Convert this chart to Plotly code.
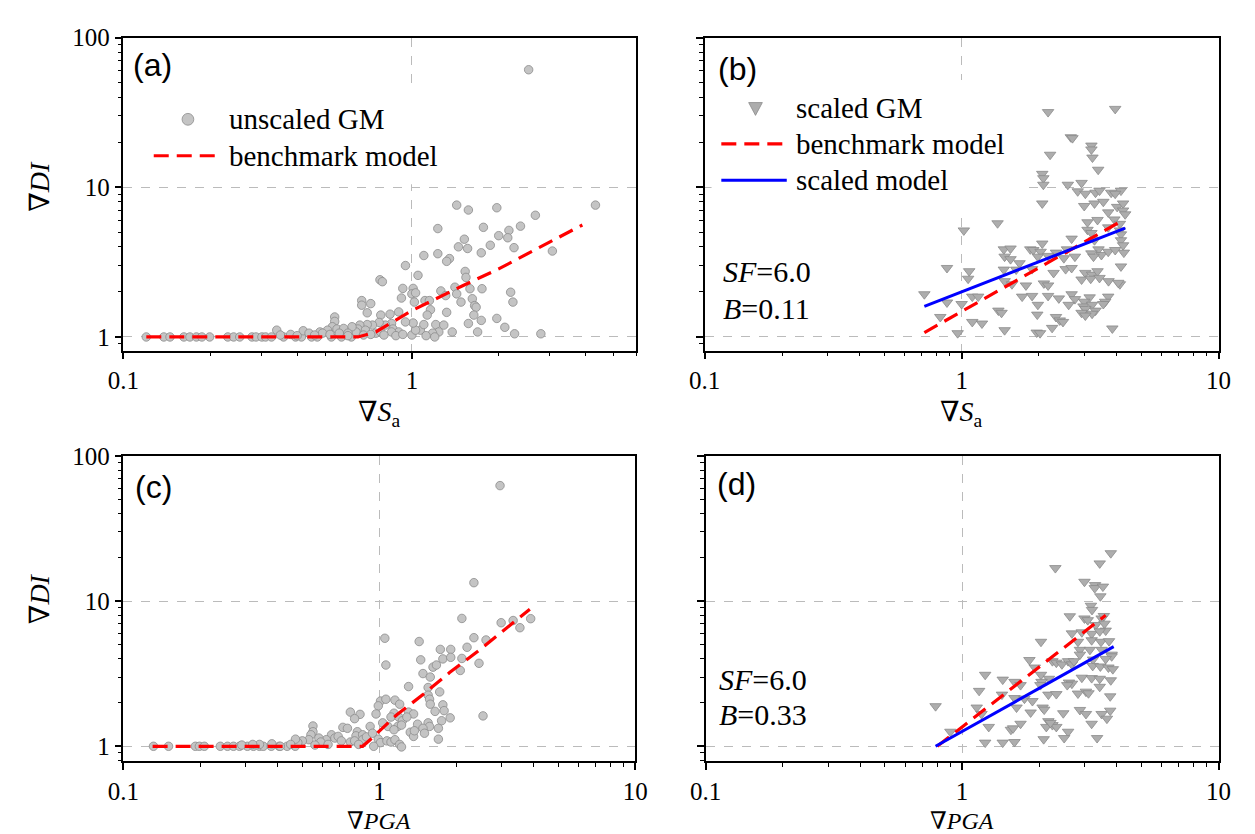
import math
import plotly.graph_objects as go

# ---------------- data ----------------
# (a) unscaled GM, Sa
a_x = [0.120, 0.138, 0.145, 0.162, 0.170, 0.179, 0.187, 0.199, 0.230, 0.241,
       0.253, 0.279, 0.288, 0.302, 0.311, 0.326, 0.359, 0.395, 0.414, 0.449,
       0.470, 0.526, 0.570, 0.617,
       2.54, 1.43, 1.57, 1.97, 4.33, 2.68, 1.23, 1.77, 2.17, 2.38,
       2.00, 2.15, 1.52, 1.45, 1.56, 1.87, 2.26, 3.07, 1.10, 1.23,
       1.35, 1.32, 1.74, 0.95, 1.05, 1.53, 1.54, 0.775, 0.79, 0.93,
       1.01, 1.26, 1.41, 1.59, 1.75, 2.20, 2.24, 1.00, 1.03, 1.11,
       1.15, 1.31, 1.43, 1.62, 1.48, 1.65, 1.67, 1.02, 0.92, 0.67,
       0.67, 0.72, 0.70, 0.78, 0.84, 0.90, 1.32, 1.16, 1.13, 1.64,
       1.74, 1.57, 1.97, 2.10, 2.27, 2.80, 1.69, 1.21, 1.29, 1.38,
       1.24, 1.18, 1.07, 1.10, 1.00, 1.03, 1.01, 0.95, 0.85, 0.86,
       0.90, 0.81, 0.77, 0.73, 0.70, 0.66, 0.65, 0.64, 0.69, 0.75,
       0.78, 0.85, 0.54, 0.54, 0.53, 0.55, 0.51, 0.48, 0.62, 0.58,
       0.60, 0.56, 0.42, 0.44, 0.49, 0.34, 0.35,
       0.38, 0.40, 0.46, 0.52, 0.60, 0.68, 0.72, 0.80, 0.88, 0.93, 1.12, 1.20]
a_y = [1.0, 1.0, 1.0, 1.0, 1.0, 1.0, 1.0, 1.0, 1.0, 1.0,
       1.0, 1.0, 1.0, 1.0, 1.0, 1.0, 1.0, 1.0, 1.0, 1.0,
       1.0, 1.0, 1.0, 1.0,
       61.0, 7.6, 7.05, 7.3, 7.6, 6.5, 5.3, 5.4, 5.15, 5.5,
       4.75, 4.6, 4.5, 4.0, 3.9, 4.1, 3.95, 3.75, 3.5, 3.6,
       3.34, 3.2, 3.65, 3.0, 2.58, 2.74, 2.5, 2.41, 2.34, 2.11,
       2.11, 2.03, 2.15, 2.1, 2.1, 1.99, 1.71, 1.94, 1.97, 1.75,
       1.75, 1.89, 1.94, 1.80, 1.71, 1.62, 1.58, 1.71, 1.82, 1.75,
       1.63, 1.67, 1.45, 1.40, 1.42, 1.47, 1.46, 1.52, 1.40, 1.40,
       1.29, 1.23, 1.33, 1.16, 1.05, 1.05, 1.08, 1.21, 1.20, 1.08,
       1.08, 1.06, 1.11, 1.21, 1.03, 1.11, 1.24, 1.26, 1.23, 1.13,
       1.08, 1.20, 1.25, 1.20, 1.21, 1.20, 1.13, 1.08, 1.11, 1.06,
       1.08, 1.08, 1.36, 1.27, 1.17, 1.13, 1.11, 1.08, 1.17, 1.14,
       1.06, 1.06, 1.10, 1.06, 1.06, 1.11, 1.03,
       1.04, 1.02, 1.03, 1.04, 1.02, 1.03, 1.04, 1.03, 1.02, 1.04, 1.02, 1.0]
a_bench_x = [0.12, 0.65, 0.75, 0.85, 1.0, 1.5, 2.0, 3.0, 3.9]
a_bench_y = [1.0, 1.0, 1.08, 1.25, 1.5, 2.2, 2.85, 4.3, 5.6]

# (b) scaled GM, Sa
b_x = [3.96, 2.17, 2.66, 2.70, 3.20, 3.20, 3.23, 2.21, 3.40, 2.06,
       2.08, 2.08, 2.59, 2.93, 2.83, 3.03, 3.32, 3.44, 3.82, 4.17,
       3.96, 2.06, 3.00, 3.29, 3.56, 4.03, 4.25, 4.25, 4.33, 3.72,
       3.93, 4.13, 1.38, 1.02, 3.09, 3.38, 3.09, 3.20, 3.72, 4.13,
       4.17, 2.68, 3.29, 4.17, 4.25, 1.46, 1.55, 1.85, 1.90, 2.06,
       2.03, 2.33, 2.57, 2.76, 3.41, 3.50, 3.72, 4.28, 3.96, 1.47,
       1.55, 1.68, 1.98, 2.17, 2.50, 3.20, 3.26, 0.877, 1.07, 1.06,
       1.46, 1.63, 1.88, 2.28, 2.54, 2.68, 3.03, 3.22, 3.38, 3.73,
       4.17, 1.47, 1.57, 1.78, 2.09, 2.17, 2.93, 3.18, 3.44, 4.13,
       4.07, 0.716, 1.10, 1.16, 1.72, 1.88, 2.17, 2.39, 2.68, 2.76,
       3.15, 3.00, 3.72, 3.62, 0.877, 1.00, 1.98, 2.61, 2.98, 3.22,
       3.32, 3.03, 2.93, 3.22, 3.56, 0.826, 1.39, 1.43, 1.97, 2.33,
       2.41, 3.03, 1.10, 1.20, 1.47, 2.25, 2.48, 0.965, 1.96, 2.02,
       3.86]
b_y = [33.4, 31.8, 21.6, 21.3, 19.0, 17.9, 15.8, 16.5, 13.1, 12.3,
       11.5, 10.4, 10.4, 10.7, 9.4, 9.06, 9.2, 9.5, 9.2, 9.5,
       9.06, 7.8, 7.5, 7.8, 8.0, 7.4, 7.8, 7.0, 6.6, 6.8,
       6.1, 5.7, 5.75, 5.15, 5.84, 6.05, 5.2, 4.95, 5.4, 5.15,
       4.85, 4.54, 4.43, 4.43, 4.1, 3.85, 3.9, 3.85, 3.81, 4.21,
       3.71, 3.66, 3.85, 3.44, 3.85, 3.53, 3.71, 3.66, 3.81, 3.44,
       3.31, 3.11, 3.44, 3.48, 3.36, 3.62, 3.44, 2.89, 2.75, 2.45,
       2.82, 2.82, 2.84, 2.68, 2.84, 2.89, 2.68, 2.61, 2.75, 2.36,
       2.96, 2.36, 2.25, 2.21, 2.28, 2.21, 2.42, 2.45, 2.48, 2.25,
       2.30, 1.93, 1.86, 1.86, 1.86, 1.88, 1.88, 1.81, 1.93, 1.79,
       1.84, 1.72, 1.86, 1.72, 1.70, 1.66, 1.64, 1.64, 1.60, 1.64,
       1.50, 1.54, 1.45, 1.43, 1.66, 1.36, 1.50, 1.45, 1.41, 1.36,
       1.29, 1.39, 1.26, 1.23, 1.11, 1.15, 1.26, 1.06, 1.07, 1.06,
       1.14]
b_bench_x = [0.716, 4.22]
b_bench_y = [1.07, 5.99]
b_scaled_x = [0.716, 4.33]
b_scaled_y = [1.60, 5.33]

# (c) unscaled GM, PGA
c_x = [0.131, 0.150, 0.191, 0.198, 0.207, 0.239, 0.255, 0.269, 0.284, 0.305,
       0.322, 0.340, 0.352, 0.378, 0.406, 0.436, 0.469,
       2.96, 2.34, 2.10, 2.99, 3.33, 3.54, 3.90, 1.05, 1.43, 2.34,
       2.61, 2.20, 1.73, 1.90, 1.45, 1.77, 1.90, 2.10, 1.06, 1.62,
       1.67, 2.45, 1.48, 1.58, 2.07, 1.30, 1.55, 1.72, 1.55, 1.01,
       1.06, 1.15, 1.57, 1.20, 1.58, 1.77, 0.99, 1.79, 1.65, 1.89,
       1.75, 2.54, 0.77, 0.84, 0.80, 0.97, 1.14, 1.11, 1.19, 1.30,
       1.23, 1.36, 1.28, 1.18, 1.08, 1.03, 0.92, 1.14, 1.22, 1.41,
       1.55, 1.57, 1.48, 1.32, 1.36, 1.37, 1.50, 1.70, 1.70, 0.55,
       0.55, 0.54, 0.72, 0.75, 0.82, 0.81, 0.86, 0.86, 0.89, 0.94,
       0.99, 1.01, 1.07, 1.11, 1.15, 1.20, 1.22, 0.95, 0.65, 0.67,
       0.69, 0.71, 0.62, 0.58, 0.59, 0.53, 0.50, 0.48, 0.47, 0.77,
       0.80, 0.83, 0.63, 0.56, 0.45, 0.41, 0.38, 0.34, 0.32, 0.29]
c_y = [1.0, 1.0, 1.0, 1.0, 1.0, 1.0, 1.0, 1.0, 1.0, 1.0,
       1.0, 1.0, 1.0, 1.0, 1.0, 1.0, 1.0,
       62.5, 13.4, 7.6, 7.1, 7.35, 6.56, 7.57, 5.55, 5.27, 5.6,
       5.4, 4.81, 4.65, 4.65, 3.94, 4.0, 4.1, 4.03, 3.63, 3.51,
       3.63, 3.73, 3.17, 3.0, 3.33, 2.58, 2.54, 2.37, 2.25, 2.05,
       2.11, 2.08, 2.11, 1.95, 1.95, 1.93, 1.9, 1.76, 1.74, 1.57,
       1.50, 1.62, 1.72, 1.66, 1.55, 1.67, 1.69, 1.59, 1.59, 1.72,
       1.50, 1.67, 1.59, 1.37, 1.37, 1.45, 1.37, 1.30, 1.40, 1.42,
       1.45, 1.37, 1.33, 1.25, 1.17, 1.28, 1.23, 1.12, 1.33, 1.38,
       1.26, 1.20, 1.35, 1.33, 1.26, 1.18, 1.20, 1.11, 1.16, 1.23,
       1.12, 1.06, 1.09, 1.07, 1.11, 1.03, 0.99, 1.0, 1.2, 1.14,
       1.17, 1.09, 1.11, 1.14, 1.07, 1.11, 1.09, 1.06, 1.12, 1.07,
       1.09, 1.03, 1.03, 1.02, 1.03, 1.0, 1.04, 1.03, 1.03, 1.02]
c_bench_x = [0.13, 0.86, 0.92, 1.17, 1.48, 1.88, 2.41, 3.10, 3.87]
c_bench_y = [1.0, 1.0, 1.11, 1.65, 2.27, 3.22, 4.48, 6.36, 8.8]

# (d) scaled GM, PGA
d_x = [3.80, 3.44, 2.31, 3.00, 3.30, 3.29, 3.54, 3.46, 3.18, 3.21,
       2.63, 3.00, 3.09, 3.50, 3.57, 3.32, 3.59, 2.68, 2.93, 3.20,
       3.63, 3.44, 2.03, 2.83, 3.20, 3.48, 3.74, 2.88, 3.15, 3.50,
       3.83, 1.83, 1.92, 2.25, 2.33, 2.45, 2.59, 2.68, 2.73, 2.88,
       3.24, 3.23, 3.46, 3.72, 3.87, 3.83, 3.63, 1.23, 1.44, 1.60,
       1.69, 2.03, 2.18, 2.04, 2.61, 2.68, 2.93, 3.20, 3.44, 3.80,
       2.57, 1.165, 1.43, 1.60, 1.75, 1.88, 2.02, 2.17, 2.33, 2.83,
       3.04, 3.11, 3.44, 3.78, 0.788, 1.14, 1.19, 1.63, 1.85, 2.06,
       2.09, 2.48, 2.88, 3.04, 3.20, 3.50, 3.67, 3.78, 0.90, 1.27,
       1.55, 1.58, 1.69, 2.17, 2.25, 2.33, 2.59, 2.13, 2.21, 1.23,
       1.44, 1.60, 2.08, 2.50, 3.36]
d_y = [21.4, 18.2, 16.9, 13.6, 12.9, 12.3, 12.6, 10.8, 9.3, 8.7,
       7.87, 7.6, 7.4, 7.6, 7.9, 6.85, 7.0, 6.0, 6.1, 5.96,
       6.27, 6.2, 5.25, 5.25, 5.38, 5.25, 5.3, 4.62, 4.62, 4.62,
       4.28, 3.93, 3.49, 3.86, 3.77, 3.67, 3.86, 3.67, 3.86, 4.28,
       3.96, 3.58, 3.55, 3.49, 3.40, 4.17, 4.0, 3.11, 2.88, 2.78,
       2.64, 3.11, 2.92, 2.78, 2.75, 2.70, 2.97, 2.95, 2.92, 2.85,
       2.64, 2.41, 2.27, 2.15, 2.13, 2.05, 2.64, 2.27, 2.29, 2.31,
       2.38, 2.32, 2.57, 2.21, 1.89, 1.85, 1.67, 1.85, 1.71, 1.85,
       1.79, 1.69, 1.78, 1.67, 1.43, 1.67, 1.55, 1.76, 1.26, 1.36,
       1.30, 1.33, 1.43, 1.49, 1.40, 1.36, 1.26, 1.36, 1.45, 1.06,
       1.06, 1.07, 1.12, 1.14, 1.14]
d_bench_x = [0.80, 3.63]
d_bench_y = [1.0, 8.0]
d_scaled_x = [0.788, 3.90]
d_scaled_y = [1.0, 4.86]

panel_labels = ["(a)", "(b)", "(c)", "(d)"]
legend_a = ["unscaled GM", "benchmark model"]
legend_b = ["scaled GM", "benchmark model", "scaled model"]
b_notes = ["<i>SF</i>=6.0", "<i>B</i>=0.11"]
d_notes = ["<i>SF</i>=6.0", "<i>B</i>=0.33"]
x_ticks = [0.1, 1, 10]
x_ticktext = ["0.1", "1", "10"]
y_ticks = [1, 10, 100]
y_ticktext = ["1", "10", "100"]

# ---------------- style ----------------
W, H = 1255, 834
SERIF = "Liberation Serif, DejaVu Serif, serif"
SANS = "Liberation Sans, Arial, sans-serif"
CIRC = dict(symbol="circle", size=8.5, color="#C4C4C4", line=dict(color="#8C8C8C", width=0.8))
TRI = dict(symbol="triangle-down", size=10, color="#ADADAD", line=dict(color="#8A8A8A", width=0.8))
RED = dict(color="#FF0000", width=3.2, dash="15px,8px")
BLUE = dict(color="#0000FF", width=3)

fig = go.Figure()


def sc(x, y, ax, marker):
    fig.add_trace(go.Scatter(x=x, y=y, mode="markers", marker=marker,
                             xaxis="x" + ax, yaxis="y" + ax, showlegend=False,
                             hoverinfo="skip"))


def ln(x, y, ax, line):
    fig.add_trace(go.Scatter(x=x, y=y, mode="lines", line=line,
                             xaxis="x" + ax, yaxis="y" + ax, showlegend=False,
                             hoverinfo="skip"))


sc(a_x, a_y, "", CIRC); ln(a_bench_x, a_bench_y, "", RED)
sc(b_x, b_y, "2", TRI); ln(b_bench_x, b_bench_y, "2", RED); ln(b_scaled_x, b_scaled_y, "2", BLUE)
sc(c_x, c_y, "3", CIRC); ln(c_bench_x, c_bench_y, "3", RED)
sc(d_x, d_y, "4", TRI); ln(d_bench_x, d_bench_y, "4", RED); ln(d_scaled_x, d_scaled_y, "4", BLUE)


def px_dom_x(a, b):
    return [a / W, b / W]


def px_dom_y(top, bot):
    return [1 - bot / H, 1 - top / H]


def axis(domain, rng, labels, anchor, tv, tt):
    return dict(type="log", domain=domain, range=rng, anchor=anchor,
                showline=True, linecolor="black", linewidth=1.6, mirror=True,
                ticks="outside", ticklen=7, tickwidth=1.5, tickcolor="black",
                tickmode="array", tickvals=tv, ticktext=tt,
                showticklabels=labels,
                tickfont=dict(family=SERIF, size=25, color="black"),
                showgrid=True, gridcolor="#BBBBBB", gridwidth=1, griddash="dash",
                zeroline=False,
                minor=dict(ticks="outside", ticklen=4, tickwidth=1,
                           tickcolor="black", dtick="D1", showgrid=False))


xa = px_dom_x(110, 635); xb = px_dom_x(705, 1231)
xc = px_dom_x(110, 634); xd = px_dom_x(706, 1231)
ytop = px_dom_y(25, 343); ybot = px_dom_y(450, 760)
ra_top = [math.log10(0.81), 2]
ra_bot = [math.log10(0.79), 2]

fig.update_layout(
    xaxis=axis(xa, [-1, math.log10(6)], True, "y", x_ticks, x_ticktext),
    yaxis=axis(ytop, ra_top, True, "x", y_ticks, y_ticktext),
    xaxis2=axis(xb, [-1, 1], True, "y2", x_ticks, x_ticktext),
    yaxis2=axis(ytop, ra_top, False, "x2", y_ticks, y_ticktext),
    xaxis3=axis(xc, [-1, 1], True, "y3", x_ticks, x_ticktext),
    yaxis3=axis(ybot, ra_bot, True, "x3", y_ticks, y_ticktext),
    xaxis4=axis(xd, [-1, 1], True, "y4", x_ticks, x_ticktext),
    yaxis4=axis(ybot, ra_bot, False, "x4", y_ticks, y_ticktext),
)

ann = []
shapes = []


def text(px, py, s, size=29, family=SERIF, xanchor="left", angle=0):
    ann.append(dict(x=px / W, y=1 - py / H, xref="paper", yref="paper", text=s,
                    showarrow=False, xanchor=xanchor, yanchor="middle", textangle=angle,
                    borderpad=0,
                    font=dict(family=family, size=size, color="black")))


# panel labels
for lab, (px, py) in zip(panel_labels, [(119, 53), (718, 57), (121, 482), (717, 478)]):
    text(px, py, lab, size=32, family=SANS)

# axis titles
text(372, 407, "∇<i>S</i><sub>a</sub>", size=28, xanchor="center")
text(968, 407, "∇<i>S</i><sub>a</sub>", size=28, xanchor="center")
text(372, 821, "∇<i>PGA</i>", size=24, xanchor="center")
text(968, 821, "∇<i>PGA</i>", size=24, xanchor="center")
text(24, 176, "∇<i>DI</i>", size=28, xanchor="center", angle=-90)
text(24, 595, "∇<i>DI</i>", size=28, xanchor="center", angle=-90)

# SF / B notes
text(723, 263, b_notes[0], size=30); text(723, 300, b_notes[1], size=30)
text(719, 677, d_notes[0], size=30); text(719, 713, d_notes[1], size=30)


def px_shape(**kw):
    d = dict(xref="paper", yref="paper", layer="above")
    d.update(kw)
    shapes.append(d)


def PX(v):
    return v / W


def PY(v):
    return 1 - v / H


# manual legend, panel a
px_shape(type="rect", x0=PX(128), x1=PX(440), y0=PY(174), y1=PY(80),
         fillcolor="white", line=dict(width=0))
px_shape(type="circle", x0=PX(170), x1=PX(182), y0=PY(114), y1=PY(102),
         fillcolor="#C4C4C4", line=dict(color="#8C8C8C", width=0.8))
px_shape(type="line", x0=PX(141), x1=PX(209), y0=PY(145), y1=PY(145),
         line=dict(color="#FF0000", width=3.2, dash="15px,8px"))
for s, yy in zip(legend_a, [108, 145]):
    text(217, yy, s)

# manual legend, panel b
px_shape(type="rect", x0=PX(712), x1=PX(1030), y0=PY(200), y1=PY(68),
         fillcolor="white", line=dict(width=0))
px_shape(type="path",
         path="M %f,%f L %f,%f L %f,%f Z" % (PX(750), PY(91), PX(764), PY(91), PX(757), PY(104)),
         fillcolor="#ADADAD", line=dict(color="#8A8A8A", width=0.8))
px_shape(type="line", x0=PX(722), x1=PX(789), y0=PY(133), y1=PY(133),
         line=dict(color="#FF0000", width=3.2, dash="15px,8px"))
px_shape(type="line", x0=PX(722), x1=PX(789), y0=PY(170), y1=PY(170),
         line=dict(color="#0000FF", width=3))
for s, yy in zip(legend_b, [97, 133, 170]):
    text(797, yy, s)

fig.update_layout(
    width=W, height=H, margin=dict(l=0, r=0, t=0, b=0),
    paper_bgcolor="white", plot_bgcolor="white",
    annotations=ann, shapes=shapes, showlegend=False,
    font=dict(family=SERIF),
)

fig.write_html("out.html", config={"displayModeBar": False},
               post_script="document.body.style.margin='0px';")
